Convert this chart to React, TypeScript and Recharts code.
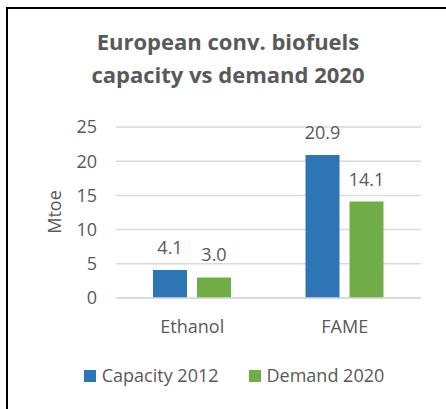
import React from 'react';
import { BarChart, Bar, XAxis, YAxis, CartesianGrid, Legend, LabelList } from 'recharts';

const categories = ['Ethanol', 'FAME'];
const capacity2012 = [4.1, 20.9];
const demand2020 = [3.0, 14.1];
const yTicks = [0, 5, 10, 15, 20, 25];
const titleLines = ['European conv. biofuels', 'capacity vs demand 2020'];
const yAxisTitle = 'Mtoe';

const data = categories.map((c, i) => ({ name: c, capacity: capacity2012[i], demand: demand2020[i] }));

const TEXT = '#595959';
const FONT = '"Open Sans", sans-serif';

const renderLegend = (props: any) => {
  const { payload } = props;
  return (
    <div style={{ display: 'flex', justifyContent: 'center', paddingLeft: 22, fontFamily: FONT, fontSize: 18, lineHeight: '25px', color: TEXT }}>
      {payload.map((p: any, i: number) => (
        <div key={i} style={{ display: 'flex', alignItems: 'center', marginLeft: i === 0 ? 0 : 30 }}>
          <span style={{ display: 'inline-block', width: 12, height: 12, background: p.color, marginRight: 6 }} />
          <span>{p.value}</span>
        </div>
      ))}
    </div>
  );
};

export default function App() {
  return (
    <div style={{ position: 'fixed', left: 0, top: 0, width: 446, height: 409, overflow: 'hidden', background: '#fff' }}>
      <div style={{ position: 'absolute', left: 6, top: 7, width: 600, height: 600, border: '2px solid #000', boxSizing: 'border-box' }} />
      <div style={{ position: 'absolute', left: 0, top: 25, width: 456, textAlign: 'center', fontFamily: FONT, fontWeight: 700, fontSize: 22, lineHeight: '33px', color: TEXT }}>
        {titleLines.map((t) => (
          <div key={t}>{t}</div>
        ))}
      </div>
      <div style={{ position: 'absolute', left: 0, top: 0 }}>
        <BarChart
          width={446}
          height={409}
          data={data}
          margin={{ top: 127, right: 25, left: 0, bottom: 21 }}
          barCategoryGap={37}
          barGap={10}
        >
          <CartesianGrid vertical={false} stroke="#D9D9D9" strokeWidth={1.5} />
          <XAxis
            dataKey="name"
            axisLine={{ stroke: '#D9D9D9', strokeWidth: 1.5 }}
            tickLine={false}
            tick={{ fill: TEXT, fontSize: 18, fontFamily: FONT }}
            tickMargin={16}
            height={65}
          />
          <YAxis
            width={116}
            domain={[0, 25]}
            ticks={yTicks}
            axisLine={false}
            tickLine={false}
            tickSize={0}
            tickMargin={19}
            tick={{ fill: TEXT, fontSize: 18, fontFamily: FONT }}
          />
          <Legend verticalAlign="bottom" content={renderLegend} wrapperStyle={{ left: 0, width: 446 }} />
          <Bar dataKey="capacity" name="Capacity 2012" fill="#2E75B6" isAnimationActive={false}>
            <LabelList dataKey="capacity" position="top" offset={16} fill={TEXT} fontSize={18} fontFamily={FONT} formatter={(v: any) => Number(v).toFixed(1)} />
          </Bar>
          <Bar dataKey="demand" name="Demand 2020" fill="#70AD47" isAnimationActive={false}>
            <LabelList dataKey="demand" position="top" offset={16} fill={TEXT} fontSize={18} fontFamily={FONT} formatter={(v: any) => Number(v).toFixed(1)} />
          </Bar>
        </BarChart>
      </div>
      <div
        style={{
          position: 'absolute',
          left: 54,
          top: 212,
          transform: 'translate(-50%, -50%) rotate(-90deg)',
          fontFamily: FONT,
          fontSize: 18,
          lineHeight: '24px',
          color: TEXT,
          whiteSpace: 'nowrap',
        }}
      >
        {yAxisTitle}
      </div>
    </div>
  );
}
